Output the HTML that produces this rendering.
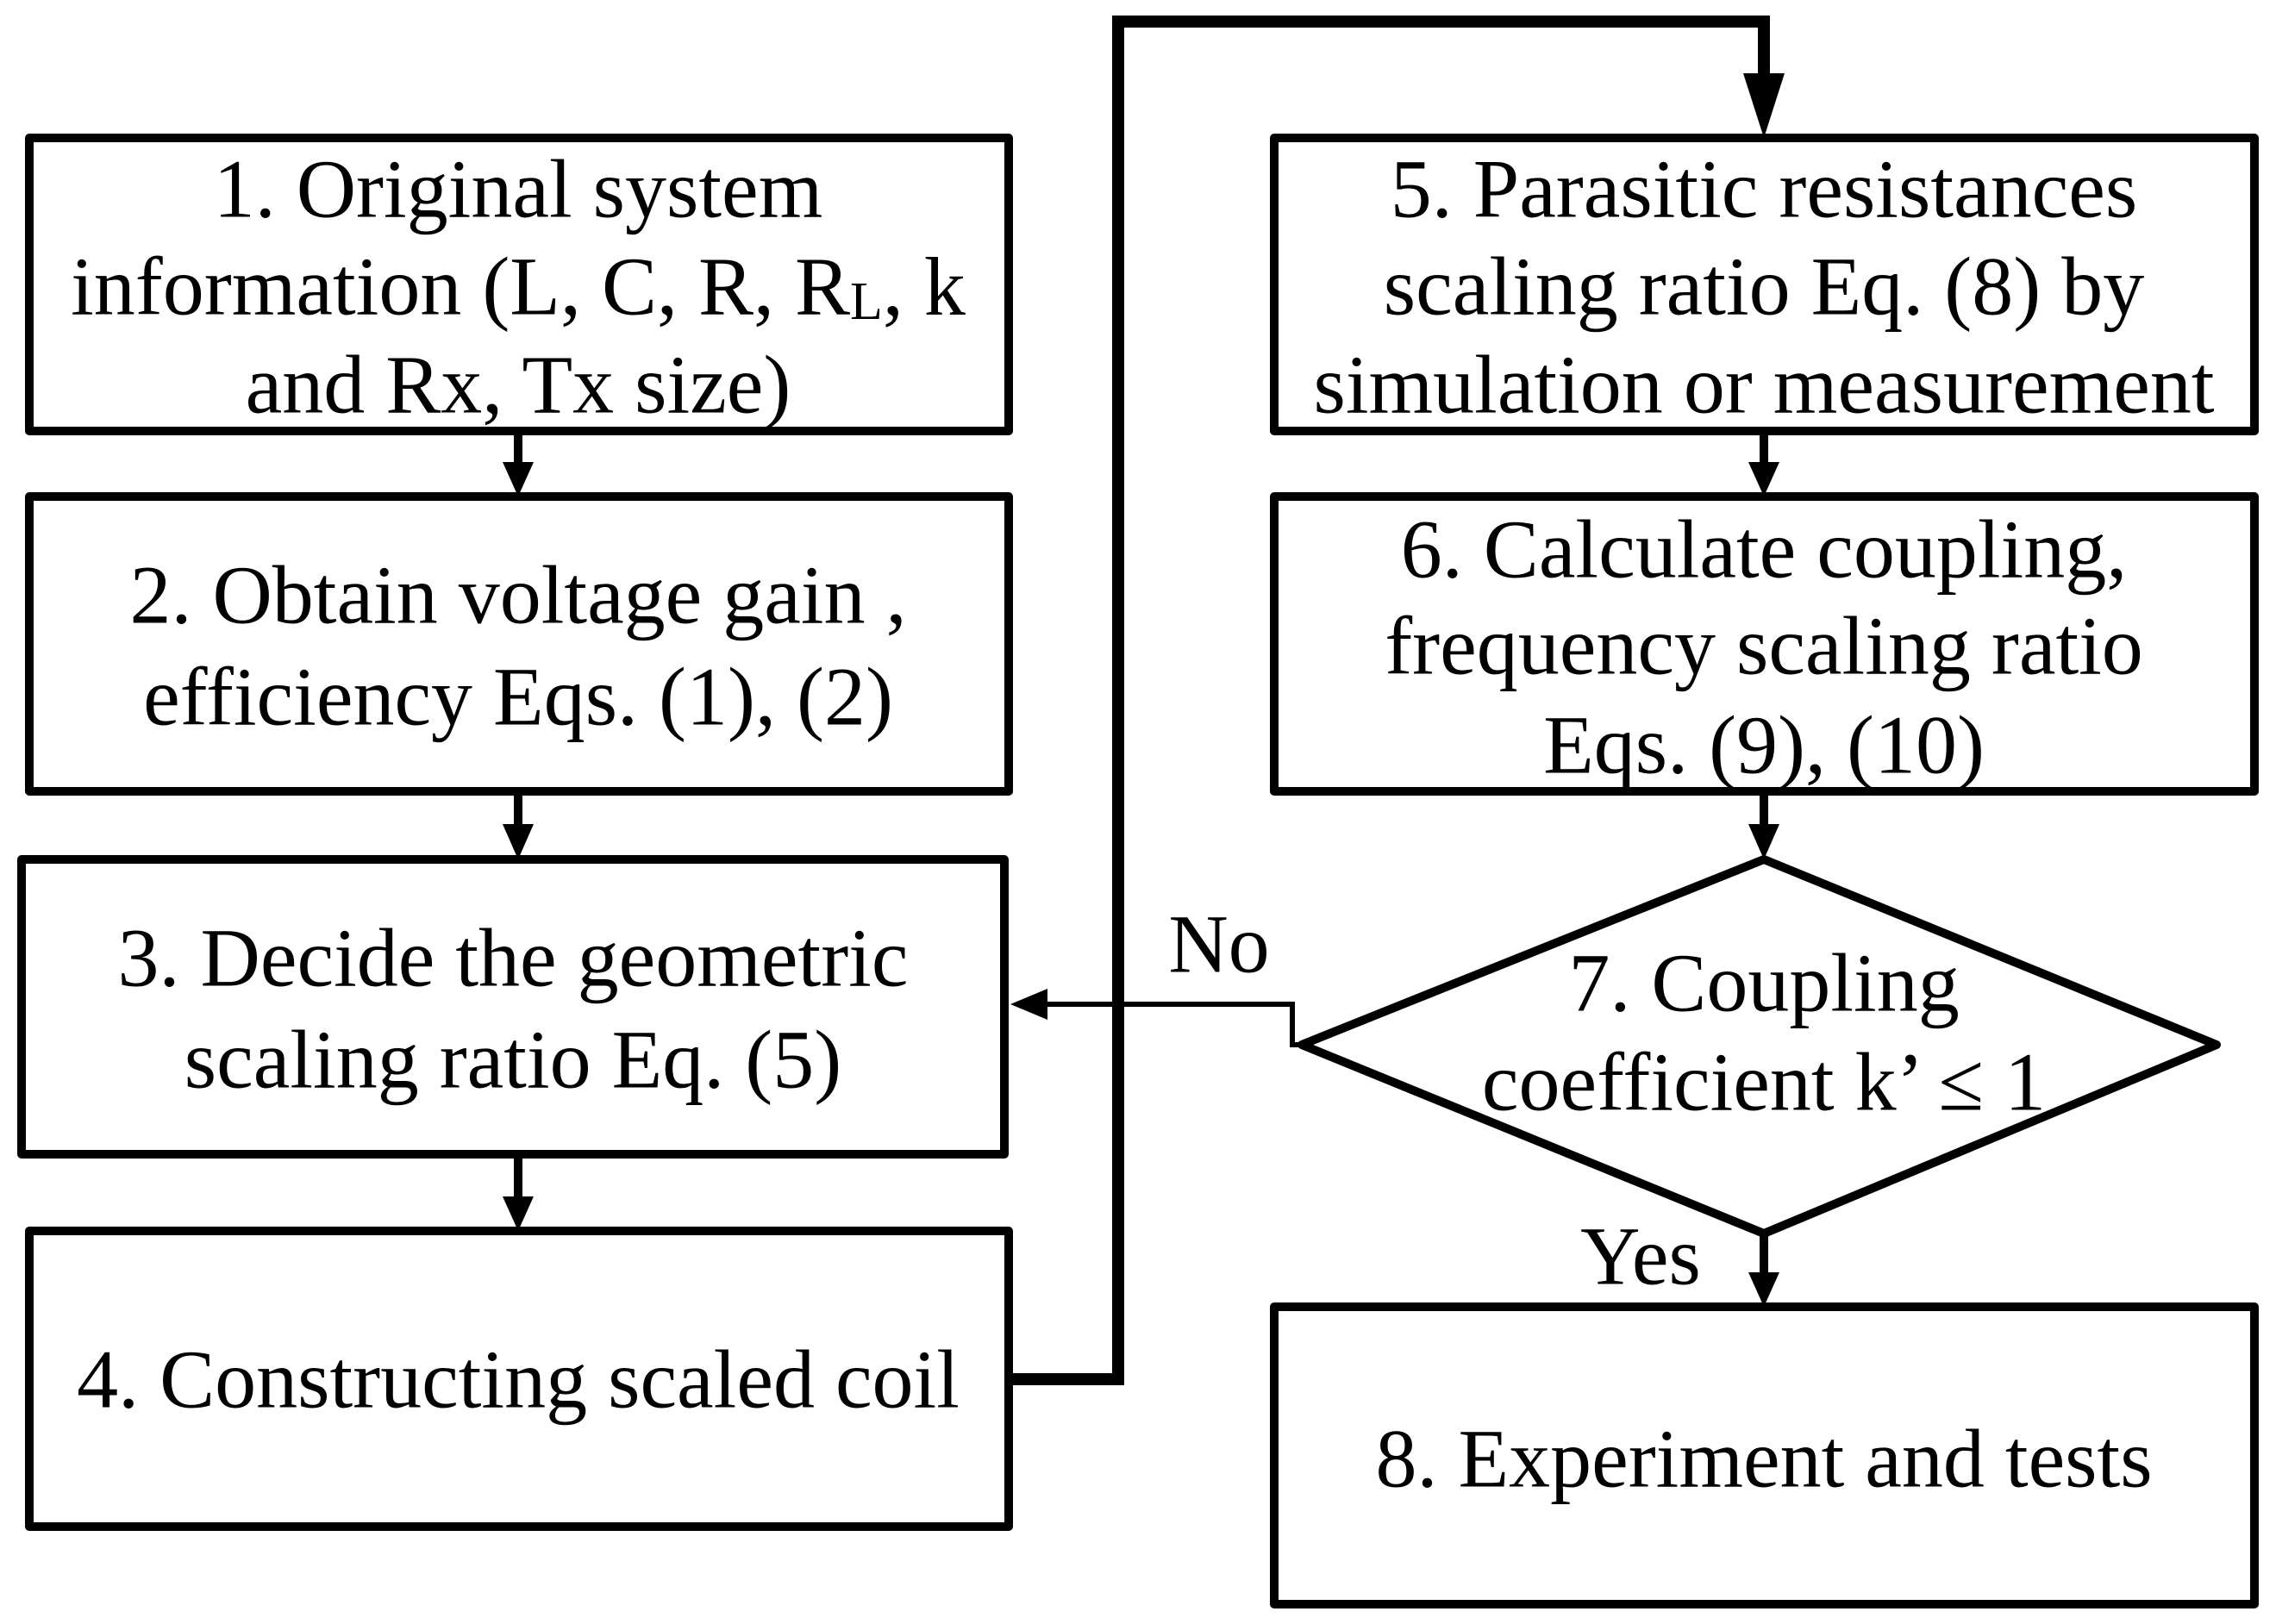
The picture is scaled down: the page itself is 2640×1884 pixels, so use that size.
<!DOCTYPE html>
<html><head><meta charset="utf-8"><style>
html,body{margin:0;padding:0;background:#fff;}
svg{display:block}
text{font-family:"Liberation Serif",serif;font-size:96px;fill:#000;text-anchor:middle;dominant-baseline:central;}
</style></head><body>
<svg width="2640" height="1884" viewBox="0 0 2640 1884" xmlns="http://www.w3.org/2000/svg">
<g fill="none" stroke="#000" stroke-width="10" stroke-linejoin="round">
<rect x="34" y="160" width="1136" height="340"/>
<rect x="34" y="576" width="1136" height="342"/>
<rect x="25" y="997" width="1140" height="342"/>
<rect x="34" y="1428" width="1136" height="343"/>
<rect x="1478" y="160" width="1137" height="340"/>
<rect x="1478" y="576" width="1137" height="342"/>
<polygon points="2046,997 2571,1212 2046,1431 1510,1212"/>
<rect x="1478" y="1516" width="1137" height="345"/>
</g>
<g stroke="#000" stroke-width="10" fill="none">
<line x1="601" y1="500" x2="601" y2="540"/>
<line x1="601" y1="918" x2="601" y2="960"/>
<line x1="601" y1="1339" x2="601" y2="1392"/>
<line x1="2046" y1="500" x2="2046" y2="540"/>
<line x1="2046" y1="918" x2="2046" y2="960"/>
<line x1="2046" y1="1431" x2="2046" y2="1480"/>
<polyline points="1170,1600 1297,1600 1297,25 2046,25 2046,90" stroke-width="14"/>
<polyline points="1510,1212 1499,1212 1499,1165 1210,1165" stroke-width="6"/>
</g>
<g fill="#000">
<polygon points="583,536 619,536 601,576"/>
<polygon points="583,956 619,956 601,997"/>
<polygon points="583,1388 619,1388 601,1428"/>
<polygon points="2028,536 2064,536 2046,576"/>
<polygon points="2028,956 2064,956 2046,997"/>
<polygon points="2028,1476 2064,1476 2046,1516"/>
<polygon points="2022,85 2070,85 2046,160"/>
<polygon points="1215,1147 1215,1183 1172,1165"/>
</g>
<text x="601" y="219">1. Original system</text>
<text x="601" y="332">information (L, C, R, R<tspan font-size="62" dy="18">L</tspan><tspan dy="-18">, k</tspan></text>
<text x="601" y="446">and Rx, Tx size)</text>
<text x="601" y="690">2. Obtain voltage gain ,</text>
<text x="601" y="808">efficiency Eqs. (1), (2)</text>
<text x="595" y="1111">3. Decide the geometric</text>
<text x="595" y="1229">scaling ratio Eq. (5)</text>
<text x="601" y="1600">4. Constructing scaled coil</text>
<text x="2046" y="219">5. Parasitic resistances</text>
<text x="2046" y="332">scaling ratio Eq. (8) by</text>
<text x="2046" y="446">simulation or measurement</text>
<text x="2046" y="637">6. Calculate coupling,</text>
<text x="2046" y="749">frequency scaling ratio</text>
<text x="2046" y="864">Eqs. (9), (10)</text>
<text x="2046" y="1140">7. Coupling</text>
<text x="2046" y="1255">coefficient k’ ≤ 1</text>
<text x="2046" y="1692">8. Experiment and tests</text>
<text x="1414" y="1095">No</text>
<text x="1903" y="1457">Yes</text>
</svg>
</body></html>
